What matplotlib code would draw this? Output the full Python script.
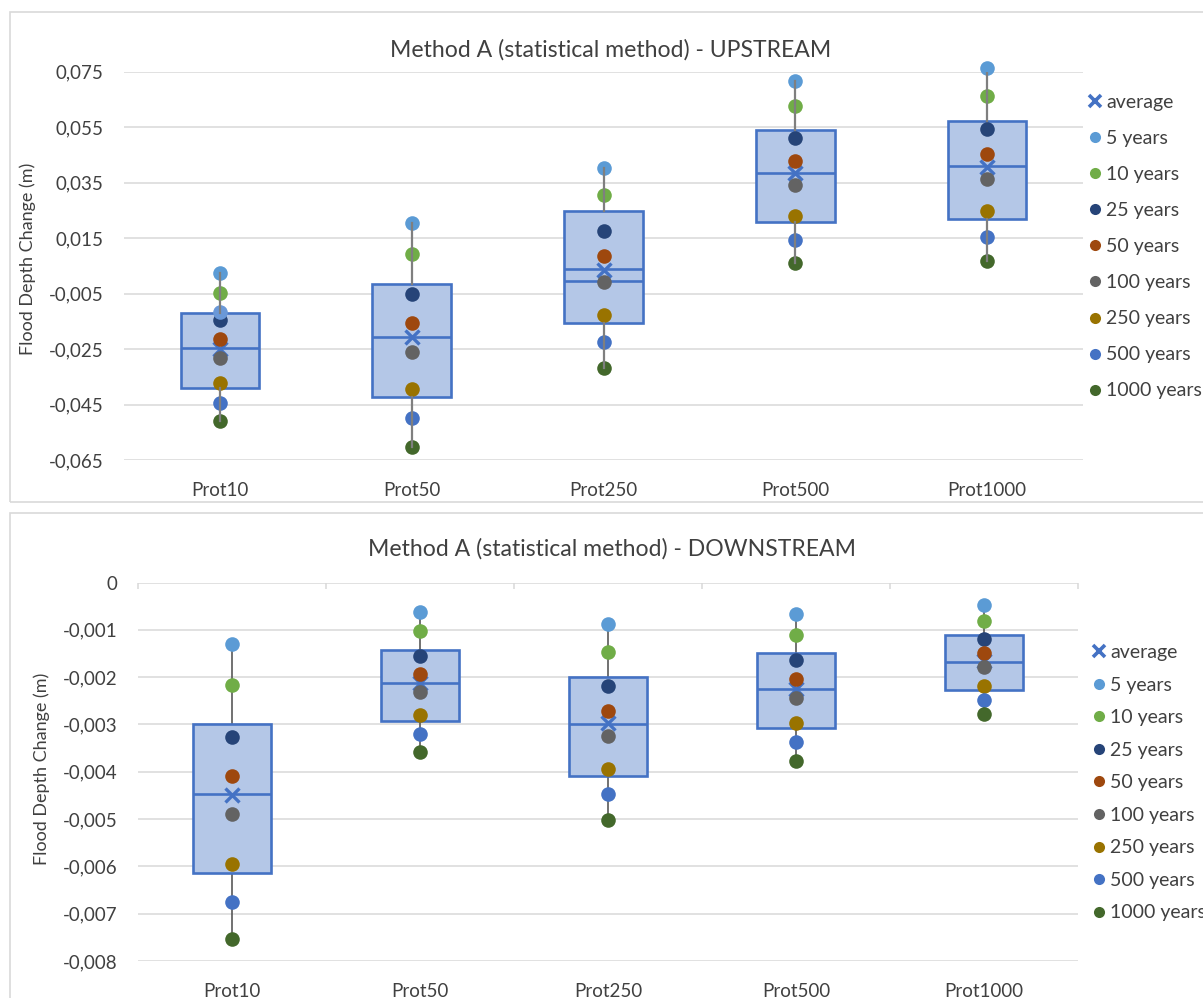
import numpy as np
import matplotlib.pyplot as plt
from matplotlib.lines import Line2D
from matplotlib.patches import Rectangle
from matplotlib.ticker import FixedLocator, FuncFormatter

plt.rcParams['font.family'] = ['Lato', 'DejaVu Sans']

categories = ['Prot10', 'Prot50', 'Prot250', 'Prot500', 'Prot1000']
series_labels = ['5 years', '10 years', '25 years', '50 years',
                 '100 years', '250 years', '500 years', '1000 years']
series_colors = ['#5B9BD5', '#70AD47', '#264478', '#9E480E',
                 '#636363', '#997300', '#4472C4', '#43682B']

# upstream, one list per return period (Prot10 ... Prot1000)
up_5 = [0.0025, 0.0203, 0.0404, 0.0716, 0.0762]
up_10 = [-0.0049, 0.0091, 0.0304, 0.0625, 0.0662]
up_25 = [-0.0145, -0.0052, 0.0177, 0.0512, 0.0542]
up_50 = [-0.0214, -0.0155, 0.0085, 0.0427, 0.0454]
up_100 = [-0.0283, -0.0260, -0.0007, 0.0340, 0.0363]
up_250 = [-0.0371, -0.0395, -0.0129, 0.0228, 0.0248]
up_500 = [-0.0443, -0.0500, -0.0225, 0.0145, 0.0155]
up_1000 = [-0.0509, -0.0604, -0.0318, 0.0059, 0.0066]
up_q1 = [-0.0392, -0.0422, -0.0155, 0.0208, 0.0220]
up_med = [-0.0247, -0.0208, 0.0039, 0.0383, 0.0410]
up_q3 = [-0.0121, -0.0017, 0.0248, 0.0540, 0.0572]
up_mean = [-0.0250, -0.0208, 0.0035, 0.0383, 0.0408]
up_line2 = [np.nan, np.nan, -0.0003, np.nan, np.nan]   # 2nd line in Prot250 box
up_extra = [-0.0118, np.nan, np.nan, np.nan, np.nan]   # stray point in Prot10 box
up_ticks = [0.075, 0.055, 0.035, 0.015, -0.005, -0.025, -0.045, -0.065]

# downstream
dn_5 = [-0.00131, -0.00062, -0.00088, -0.00067, -0.00048]
dn_10 = [-0.00217, -0.00103, -0.00146, -0.00110, -0.00081]
dn_25 = [-0.00327, -0.00155, -0.00218, -0.00164, -0.00119]
dn_50 = [-0.00408, -0.00193, -0.00271, -0.00204, -0.00150]
dn_100 = [-0.00489, -0.00231, -0.00325, -0.00244, -0.00179]
dn_250 = [-0.00594, -0.00281, -0.00395, -0.00297, -0.00218]
dn_500 = [-0.00675, -0.00320, -0.00448, -0.00337, -0.00248]
dn_1000 = [-0.00754, -0.00358, -0.00501, -0.00377, -0.00278]
dn_q1 = [-0.00615, -0.00292, -0.00408, -0.00308, -0.00227]
dn_med = [-0.00448, -0.00212, -0.00299, -0.00225, -0.00167]
dn_q3 = [-0.00300, -0.00142, -0.00200, -0.00150, -0.00110]
dn_mean = [-0.00450, -0.00212, -0.00297, -0.00225, -0.00166]
dn_ticks = [0, -0.001, -0.002, -0.003, -0.004, -0.005, -0.006, -0.007, -0.008]

W, H = 1203, 998
TXT = '#404040'
GRID = '#D9D9D9'
BOX_EDGE = '#4472C4'
BOX_FILL = '#B4C7E7'

fig = plt.figure(figsize=(W / 100, H / 100), dpi=100)


def px_axes(left, top, right, bottom):
    return fig.add_axes([left / W, 1 - bottom / H, (right - left) / W, (bottom - top) / H])


def comma_fmt(v, _pos):
    if abs(v) < 1e-12:
        return '0'
    return f'{v:.3f}'.replace('.', ',')


def draw_chart(ax, series, q1, med, q3, mean, ticks, whisk_color, whisk_z, whisk_lw):
    pos = np.arange(len(categories))
    data = np.array(series)
    stats = []
    for i in range(len(categories)):
        stats.append(dict(q1=q1[i], med=med[i], q3=q3[i], mean=mean[i],
                          whislo=data[:, i].min(), whishi=data[:, i].max(), fliers=[]))
    bp = ax.bxp(stats, positions=pos, widths=0.41, patch_artist=True,
                showcaps=False, showmeans=True, showfliers=False,
                boxprops=dict(facecolor=BOX_FILL, edgecolor=BOX_EDGE, linewidth=1.9),
                medianprops=dict(color=BOX_EDGE, linewidth=1.9),
                whiskerprops=dict(color=whisk_color, linewidth=whisk_lw),
                meanprops=dict(marker='x', markeredgecolor=BOX_EDGE, markersize=10,
                               markeredgewidth=2.4))
    for b in bp['boxes']:
        b.set_zorder(2)
    for m in bp['medians']:
        m.set_zorder(2.2)
    for m in bp['means']:
        m.set_zorder(2.5)
    for w in bp['whiskers']:
        w.set_zorder(whisk_z)

    for vals, col in zip(series, series_colors):
        ax.plot(pos, vals, linestyle='none', marker='o', markersize=10.5,
                color=col, markeredgewidth=0, zorder=3, clip_on=False)

    ax.set_xlim(-0.5, len(categories) - 0.5)
    ax.set_ylim(min(ticks), max(ticks))
    ax.set_yticks(ticks)
    ax.yaxis.set_major_formatter(FuncFormatter(comma_fmt))
    ax.set_xticks(pos)
    ax.set_xticklabels(categories)
    ax.tick_params(axis='both', length=0, labelsize=13.5, labelcolor=TXT)
    ax.tick_params(axis='x', pad=16)
    ax.tick_params(axis='y', pad=15)
    ax.grid(axis='y', color=GRID, linewidth=1.1)
    ax.set_axisbelow(True)
    for s in ax.spines.values():
        s.set_visible(False)
    return bp


def add_legend(ax, left_px, top_px, spacing):
    handles = [Line2D([], [], linestyle='none', marker='x', markersize=9,
                      markeredgewidth=2.6, color=BOX_EDGE)]
    for col in series_colors:
        handles.append(Line2D([], [], linestyle='none', marker='o', markersize=8,
                              color=col, markeredgewidth=0))
    labels = ['average'] + series_labels
    leg = ax.legend(handles, labels, loc='upper left',
                    bbox_to_anchor=(left_px / W, 1 - top_px / H),
                    bbox_transform=fig.transFigure, frameon=False,
                    borderpad=0, borderaxespad=0, handlelength=0.65,
                    handletextpad=0.25, labelspacing=spacing, fontsize=14)
    for t in leg.get_texts():
        t.set_color(TXT)


# outer chart borders
fig.patches.append(Rectangle((10 / W, 1 - 502 / H), 1.2, 490 / H, transform=fig.transFigure,
                             fill=False, edgecolor=GRID, linewidth=1.2))
fig.patches.append(Rectangle((10 / W, -0.1), 1.2, 0.1 + 1 - 513 / H, transform=fig.transFigure,
                             fill=False, edgecolor=GRID, linewidth=1.2))

# upstream
ax1 = px_axes(124, 71.7, 1083, 460)
up_series = [up_5, up_10, up_25, up_50, up_100, up_250, up_500, up_1000]
draw_chart(ax1, up_series, up_q1, up_med, up_q3, up_mean, up_ticks, '#7F7F7F', 4, 1.6)
ax1.hlines(up_line2, np.arange(5) - 0.205, np.arange(5) + 0.205,
           color=BOX_EDGE, linewidth=1.9, zorder=2.2)
ax1.plot(np.arange(5), up_extra, linestyle='none', marker='o', markersize=10.5,
         color='#6A98D8', markeredgewidth=0, zorder=3.1)
add_legend(ax1, 1089, 94, 0.98)
fig.text(611 / W, 1 - 50 / H, 'Method A (statistical method) - UPSTREAM',
         ha='center', va='center', fontsize=16.6, color=TXT)
fig.text(28 / W, 1 - 259 / H, 'Flood Depth Change (m)', rotation=90,
         ha='center', va='center', fontsize=13, color=TXT)

# downstream
ax2 = px_axes(138, 582.5, 1078, 961)
dn_series = [dn_5, dn_10, dn_25, dn_50, dn_100, dn_250, dn_500, dn_1000]
draw_chart(ax2, dn_series, dn_q1, dn_med, dn_q3, dn_mean, dn_ticks, '#595959', 1.9, 1.2)
ax2.xaxis.set_minor_locator(FixedLocator(np.arange(-0.5, 5, 1)))
ax2.tick_params(axis='x', which='minor', bottom=False, top=True, direction='in',
                length=4, width=1.1, color=GRID)
add_legend(ax2, 1093, 644, 0.8)
fig.text(612 / W, 1 - 549 / H, 'Method A (statistical method) - DOWNSTREAM',
         ha='center', va='center', fontsize=16.6, color=TXT)
fig.text(42 / W, 1 - 769 / H, 'Flood Depth Change (m)', rotation=90,
         ha='center', va='center', fontsize=13, color=TXT)

fig.savefig('out.png', dpi=100, facecolor='white')
